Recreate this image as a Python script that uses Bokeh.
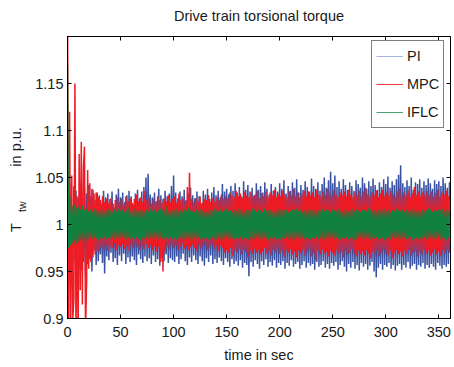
from bokeh.plotting import figure
from bokeh.models import LinearAxis, FixedTicker, Legend, LegendItem, Range1d
from bokeh.embed import file_html
from bokeh.resources import INLINE

# ---------------- data (1 s sampling) ----------------
time_s = list(range(0, 361))

pi_tw = [
    1.058, 0.935, 1.045, 0.948, 1.020, 0.957, 1.041, 0.962, 1.036, 0.944,
    1.028, 0.955, 1.044, 0.951, 1.012, 0.960, 1.039, 0.947, 1.033, 0.958,
    1.042, 0.963, 1.030, 0.950, 1.037, 0.972, 1.026, 0.957, 1.034, 0.961,
    1.031, 0.968, 1.022, 0.959, 1.036, 0.948, 1.029, 0.966, 1.033, 0.962,
    1.027, 0.970, 1.035, 0.960, 1.018, 0.964, 1.032, 0.957, 1.038, 0.967,
    1.029, 0.961, 1.034, 0.969, 1.024, 0.958, 1.031, 0.965, 1.036, 0.960,
    1.030, 0.966, 1.021, 0.962, 1.033, 0.957, 1.037, 0.968, 1.028, 0.963,
    1.035, 0.959, 1.040, 0.966, 1.050, 0.961, 1.054, 0.964, 1.032, 0.958,
    1.029, 0.967, 1.034, 0.960, 1.025, 0.963, 1.038, 0.956, 1.031, 0.965,
    1.027, 0.961, 1.036, 0.968, 1.030, 0.959, 1.033, 0.964, 1.041, 0.962,
    1.052, 0.960, 1.034, 0.966, 1.028, 0.958, 1.035, 0.963, 1.030, 0.969,
    1.037, 0.961, 1.026, 0.957, 1.033, 0.965, 1.039, 0.960, 1.031, 0.967,
    1.028, 0.962, 1.035, 0.958, 1.030, 0.966, 1.022, 0.961, 1.036, 0.956,
    1.032, 0.964, 1.038, 0.960, 1.027, 0.967, 1.034, 0.958, 1.040, 0.963,
    1.031, 0.959, 1.036, 0.965, 1.029, 0.961, 1.043, 0.957, 1.035, 0.964,
    1.038, 0.960, 1.032, 0.955, 1.041, 0.963, 1.036, 0.958, 1.044, 0.961,
    1.034, 0.956, 1.040, 0.962, 1.030, 0.954, 1.046, 0.959, 1.037, 0.957,
    1.042, 0.945, 1.035, 0.960, 1.039, 0.955, 1.031, 0.962, 1.044, 0.958,
    1.037, 0.953, 1.041, 0.961, 1.034, 0.957, 1.045, 0.963, 1.038, 0.955,
    1.032, 0.960, 1.043, 0.956, 1.036, 0.962, 1.040, 0.954, 1.035, 0.959,
    1.044, 0.957, 1.038, 0.961, 1.047, 0.953, 1.033, 0.959, 1.041, 0.956,
    1.036, 0.962, 1.045, 0.955, 1.039, 0.958, 1.048, 0.960, 1.034, 0.953,
    1.042, 0.957, 1.037, 0.961, 1.046, 0.954, 1.040, 0.959, 1.035, 0.956,
    1.049, 0.958, 1.041, 0.952, 1.038, 0.960, 1.045, 0.955, 1.036, 0.957,
    1.043, 0.961, 1.050, 0.954, 1.039, 0.958, 1.047, 0.953, 1.056, 0.959,
    1.044, 0.956, 1.052, 0.960, 1.040, 0.952, 1.046, 0.957, 1.038, 0.961,
    1.048, 0.955, 1.042, 0.950, 1.037, 0.958, 1.045, 0.954, 1.041, 0.960,
    1.036, 0.953, 1.047, 0.957, 1.043, 0.951, 1.039, 0.959, 1.050, 0.955,
    1.044, 0.958, 1.038, 0.952, 1.046, 0.956, 1.041, 0.960, 1.049, 0.950,
    1.042, 0.944, 1.037, 0.954, 1.045, 0.958, 1.040, 0.952, 1.048, 0.957,
    1.043, 0.955, 1.051, 0.959, 1.039, 0.953, 1.046, 0.957, 1.042, 0.951,
    1.048, 0.956, 1.053, 0.958, 1.063, 0.952, 1.044, 0.957, 1.040, 0.954,
    1.047, 0.960, 1.041, 0.953, 1.050, 0.956, 1.037, 0.958, 1.045, 0.952,
    1.043, 0.957, 1.048, 0.955, 1.039, 0.959, 1.046, 0.953, 1.042, 0.957,
    1.049, 0.954, 1.044, 0.958, 1.038, 0.955, 1.047, 0.952, 1.043, 0.959,
    1.046, 0.956, 1.041, 0.953, 1.050, 0.957, 1.044, 0.955, 1.039, 0.958,
    1.045,
]

mpc_tw = [
    1.250, 0.880, 1.120, 0.880, 1.052, 0.900, 0.920, 1.150, 0.880, 1.030,
    0.880, 1.075, 0.930, 1.088, 0.915, 1.060, 1.083, 0.885, 0.940, 1.058,
    0.953, 1.044, 0.960, 1.038, 0.965, 1.033, 0.968, 1.034, 0.972, 1.029,
    0.971, 1.026, 0.976, 1.030, 0.974, 1.024, 0.978, 1.027, 0.972, 1.023,
    0.977, 1.028, 0.975, 1.022, 0.980, 1.026, 0.973, 1.029, 0.978, 1.024,
    0.976, 1.027, 0.979, 1.021, 0.974, 1.030, 0.977, 1.025, 0.972, 1.028,
    0.978, 1.023, 0.975, 1.027, 0.980, 1.032, 0.976, 1.025, 0.973, 1.029,
    0.977, 1.024, 0.974, 1.036, 0.979, 1.026, 0.975, 1.028, 0.978, 1.022,
    0.973, 1.027, 0.977, 1.024, 0.971, 1.030, 0.976, 1.026, 0.960, 1.023,
    0.950, 1.028, 0.970, 1.025, 0.977, 1.031, 0.974, 1.024, 0.979, 1.027,
    0.975, 1.030, 0.978, 1.023, 0.973, 1.033, 0.976, 1.026, 0.980, 1.028,
    0.974, 1.025, 0.977, 1.040, 0.973, 1.055, 0.976, 1.027, 0.979, 1.024,
    0.975, 1.028, 0.972, 1.025, 0.978, 1.030, 0.974, 1.023, 0.977, 1.027,
    0.980, 1.026, 0.973, 1.031, 0.976, 1.024, 0.979, 1.028, 0.974, 1.025,
    0.977, 1.029, 0.972, 1.026, 0.978, 1.032, 0.975, 1.027, 0.970, 1.030,
    0.973, 1.028, 0.970, 1.034, 0.975, 1.031, 0.966, 1.029, 0.972, 1.036,
    0.970, 1.030, 0.974, 1.033, 0.968, 1.028, 0.973, 1.035, 0.971, 1.031,
    0.965, 1.029, 0.972, 1.034, 0.969, 1.030, 0.974, 1.032, 0.970, 1.036,
    0.973, 1.028, 0.968, 1.033, 0.971, 1.030, 0.975, 1.035, 0.969, 1.029,
    0.972, 1.034, 0.967, 1.031, 0.973, 1.037, 0.970, 1.029, 0.974, 1.033,
    0.969, 1.030, 0.972, 1.036, 0.966, 1.032, 0.973, 1.029, 0.970, 1.035,
    0.974, 1.031, 0.968, 1.038, 0.971, 1.030, 0.965, 1.034, 0.972, 1.029,
    0.969, 1.033, 0.973, 1.036, 0.967, 1.030, 0.971, 1.035, 0.974, 1.031,
    0.966, 1.034, 0.970, 1.029, 0.962, 1.037, 0.972, 1.032, 0.968, 1.030,
    0.973, 1.035, 0.969, 1.031, 0.971, 1.038, 0.966, 1.033, 0.972, 1.030,
    0.970, 1.036, 0.967, 1.032, 0.973, 1.029, 0.969, 1.034, 0.971, 1.031,
    0.965, 1.035, 0.972, 1.030, 0.968, 1.037, 0.970, 1.032, 0.974, 1.029,
    0.969, 1.034, 0.966, 1.031, 0.972, 1.036, 0.968, 1.030, 0.971, 1.035,
    0.967, 1.039, 0.973, 1.032, 0.969, 1.030, 0.964, 1.034, 0.971, 1.031,
    0.968, 1.036, 0.972, 1.029, 0.966, 1.033, 0.970, 1.037, 0.973, 1.030,
    0.969, 1.034, 0.967, 1.031, 0.972, 1.036, 0.964, 1.032, 0.970, 1.029,
    0.973, 1.035, 0.968, 1.038, 0.971, 1.030, 0.966, 1.034, 0.972, 1.031,
    0.969, 1.036, 0.973, 1.029, 0.967, 1.033, 0.970, 1.040, 0.972, 1.031,
    0.966, 1.035, 0.971, 1.030, 0.968, 1.034, 0.973, 1.032, 0.969, 1.036,
    0.972, 1.031, 0.967, 1.035, 0.970, 1.029, 0.974, 1.033, 0.968, 1.037,
    0.971, 1.030, 0.966, 1.034, 0.972, 1.032, 0.969, 1.036, 0.973, 1.030,
    0.970,
]

iflc_tw = [
    1.168, 0.975, 1.030, 0.978, 1.020, 0.980, 1.022, 0.983, 1.018, 0.979,
    1.019, 0.982, 1.016, 0.984, 1.020, 0.981, 1.015, 0.985, 1.017, 0.983,
    1.014, 0.986, 1.016, 0.984, 1.013, 0.987, 1.017, 0.985, 1.015, 0.983,
    1.014, 0.986, 1.016, 0.985, 1.013, 0.987, 1.015, 0.984, 1.017, 0.986,
    1.015, 0.985, 1.013, 0.987, 1.016, 0.984, 1.014, 0.986, 1.017, 0.985,
    1.014, 0.987, 1.016, 0.985, 1.013, 0.984, 1.015, 0.986, 1.018, 0.985,
    1.013, 0.986, 1.015, 0.984, 1.017, 0.987, 1.014, 0.985, 1.016, 0.983,
    1.015, 0.986, 1.013, 0.985, 1.016, 0.987, 1.014, 0.984, 1.017, 0.986,
    1.014, 0.985, 1.016, 0.987, 1.013, 0.984, 1.015, 0.986, 1.017, 0.985,
    1.016, 0.984, 1.014, 0.986, 1.019, 0.985, 1.013, 0.987, 1.015, 0.984,
    1.015, 0.986, 1.017, 0.984, 1.014, 0.985, 1.016, 0.987, 1.013, 0.985,
    1.016, 0.984, 1.014, 0.986, 1.018, 0.985, 1.015, 0.983, 1.014, 0.986,
    1.013, 0.985, 1.016, 0.987, 1.014, 0.984, 1.017, 0.986, 1.015, 0.985,
    1.014, 0.986, 1.013, 0.984, 1.016, 0.985, 1.015, 0.987, 1.017, 0.984,
    1.015, 0.985, 1.014, 0.986, 1.016, 0.983, 1.013, 0.985, 1.015, 0.987,
    1.017, 0.984, 1.014, 0.986, 1.015, 0.985, 1.013, 0.984, 1.016, 0.986,
    1.014, 0.985, 1.017, 0.987, 1.015, 0.984, 1.013, 0.986, 1.016, 0.985,
    1.015, 0.983, 1.014, 0.986, 1.017, 0.985, 1.016, 0.984, 1.013, 0.987,
    1.016, 0.985, 1.015, 0.984, 1.013, 0.986, 1.017, 0.985, 1.014, 0.983,
    1.015, 0.986, 1.016, 0.985, 1.014, 0.987, 1.013, 0.984, 1.016, 0.985,
    1.017, 0.984, 1.014, 0.986, 1.015, 0.985, 1.016, 0.987, 1.013, 0.984,
    1.014, 0.986, 1.016, 0.983, 1.015, 0.985, 1.017, 0.986, 1.014, 0.985,
    1.016, 0.987, 1.013, 0.984, 1.015, 0.986, 1.014, 0.985, 1.017, 0.984,
    1.015, 0.986, 1.016, 0.985, 1.013, 0.987, 1.015, 0.984, 1.014, 0.986,
    1.017, 0.985, 1.014, 0.983, 1.016, 0.986, 1.015, 0.985, 1.013, 0.987,
    1.016, 0.984, 1.015, 0.986, 1.014, 0.985, 1.017, 0.984, 1.015, 0.986,
    1.013, 0.985, 1.016, 0.987, 1.014, 0.984, 1.015, 0.986, 1.017, 0.985,
    1.014, 0.983, 1.016, 0.985, 1.015, 0.986, 1.013, 0.987, 1.016, 0.984,
    1.015, 0.986, 1.014, 0.985, 1.017, 0.984, 1.016, 0.986, 1.013, 0.985,
    1.015, 0.987, 1.014, 0.984, 1.016, 0.985, 1.015, 0.986, 1.017, 0.983,
    1.014, 0.985, 1.016, 0.986, 1.013, 0.984, 1.015, 0.987, 1.014, 0.985,
    1.017, 0.986, 1.015, 0.984, 1.014, 0.985, 1.016, 0.986, 1.013, 0.984,
    1.016, 0.985, 1.014, 0.987, 1.015, 0.983, 1.017, 0.985, 1.014, 0.986,
    1.015, 0.984, 1.013, 0.986, 1.016, 0.985, 1.014, 0.987, 1.015, 0.984,
    1.017, 0.985, 1.016, 0.986, 1.013, 0.984, 1.015, 0.985, 1.014, 0.987,
    1.016, 0.984, 1.015, 0.986, 1.017, 0.985, 1.014, 0.983, 1.016, 0.986,
    1.015,
]

title_text = "Drive train torsional torque"
x_label = "time in sec"
series_names = ["PI", "MPC", "IFLC"]
x_ticks = [0, 50, 100, 150, 200, 250, 300, 350]
y_ticks = [0.9, 0.95, 1.0, 1.05, 1.1, 1.15]
y_tick_labels = ["0.9", "0.95", "1", "1.05", "1.1", "1.15"]

# ---------------- style ----------------
FONT = "Liberation Sans"
FS = "14.5px"
TXT = "#1a1a1a"
line_colors = ["#3a52a3", "#ee1c25", "#12803f"]
legend_colors = ["#aab3dc", "#ec3a40", "#4ea372"]
NB = "\u00a0"

p = figure(width=454, height=367, x_range=Range1d(0, 361), y_range=Range1d(0.9, 1.2),
           output_backend="svg", toolbar_location=None,
           min_border_left=67, min_border_right=4, min_border_top=36, min_border_bottom=49)
p.background_fill_color = "white"
p.border_fill_color = "white"
p.outline_line_color = "black"
p.outline_line_width = 1
p.grid.visible = False

for series, col in zip([pi_tw, mpc_tw, iflc_tw], line_colors):
    n = min(len(time_s), len(series))
    p.line(time_s[:n], series[:n], line_color=col, line_width=1.5)

def style_axis(ax, ticks, show_labels):
    ax.ticker = FixedTicker(ticks=ticks)
    ax.minor_tick_line_color = None
    ax.major_tick_in = 4
    ax.major_tick_out = 0
    ax.axis_line_color = "black"
    ax.major_tick_line_color = "black"
    ax.major_label_text_font = FONT
    ax.major_label_text_font_size = FS if show_labels else "0px"
    ax.major_label_text_color = TXT
    ax.axis_label_text_font = FONT
    ax.axis_label_text_font_style = "normal"
    ax.axis_label_text_color = TXT
    if not show_labels:
        ax.major_label_standoff = 0

xa = p.xaxis[0]
style_axis(xa, x_ticks, True)
xa.major_label_standoff = 8
xa.axis_label = x_label
xa.axis_label_text_font_size = FS
xa.axis_label_standoff = 7

# main y axis: tick labels + subscript "tw" of the axis label
ya = p.yaxis[0]
style_axis(ya, y_ticks, True)
ya.major_label_standoff = 4
ya.major_label_overrides = {t: s for t, s in zip(y_ticks, y_tick_labels)}
ya.axis_label = "tw" + NB * 20
ya.axis_label_text_font_size = "10.5px"
ya.axis_label_standoff = 4

# outer left axis carrying the rest of the y label "T   in p.u."
yl = LinearAxis()
style_axis(yl, [], False)
yl.axis_line_color = None
yl.major_tick_line_color = None
yl.axis_label = "T" + NB * 14 + "in p.u." + NB
yl.axis_label_text_font_size = FS
yl.axis_label_standoff = -10
p.add_layout(yl, "left")

# top axis (box ticks) carrying the chart title
top = LinearAxis()
style_axis(top, x_ticks, False)
top.major_label_overrides = {t: "" for t in x_ticks}
top.axis_label = title_text
top.axis_label_text_font_size = FS
top.axis_label_standoff = 13
p.add_layout(top, "above")

right = LinearAxis()
style_axis(right, y_ticks, False)
right.major_label_overrides = {t: "" for t in y_ticks}
p.add_layout(right, "right")

# legend (sample lines drawn in the lighter tone seen in the reference key)
items = []
for name, col in zip(series_names, legend_colors):
    r = p.line([-20, -10], [0.5, 0.5], line_color=col, line_width=1)
    items.append(LegendItem(label=name, renderers=[r]))
legend = Legend(items=items, location=(304, 190))
legend.border_line_color = "black"
legend.border_line_width = 1
legend.background_fill_color = "white"
legend.background_fill_alpha = 1
legend.padding = 4
legend.spacing = 6
legend.margin = 0
legend.label_height = 22
legend.glyph_height = 22
legend.glyph_width = 27
legend.label_standoff = 4
legend.label_text_font = FONT
legend.label_text_font_size = FS
legend.label_text_color = TXT
p.add_layout(legend)

open("out.html", "w").write(file_html(p, INLINE))
